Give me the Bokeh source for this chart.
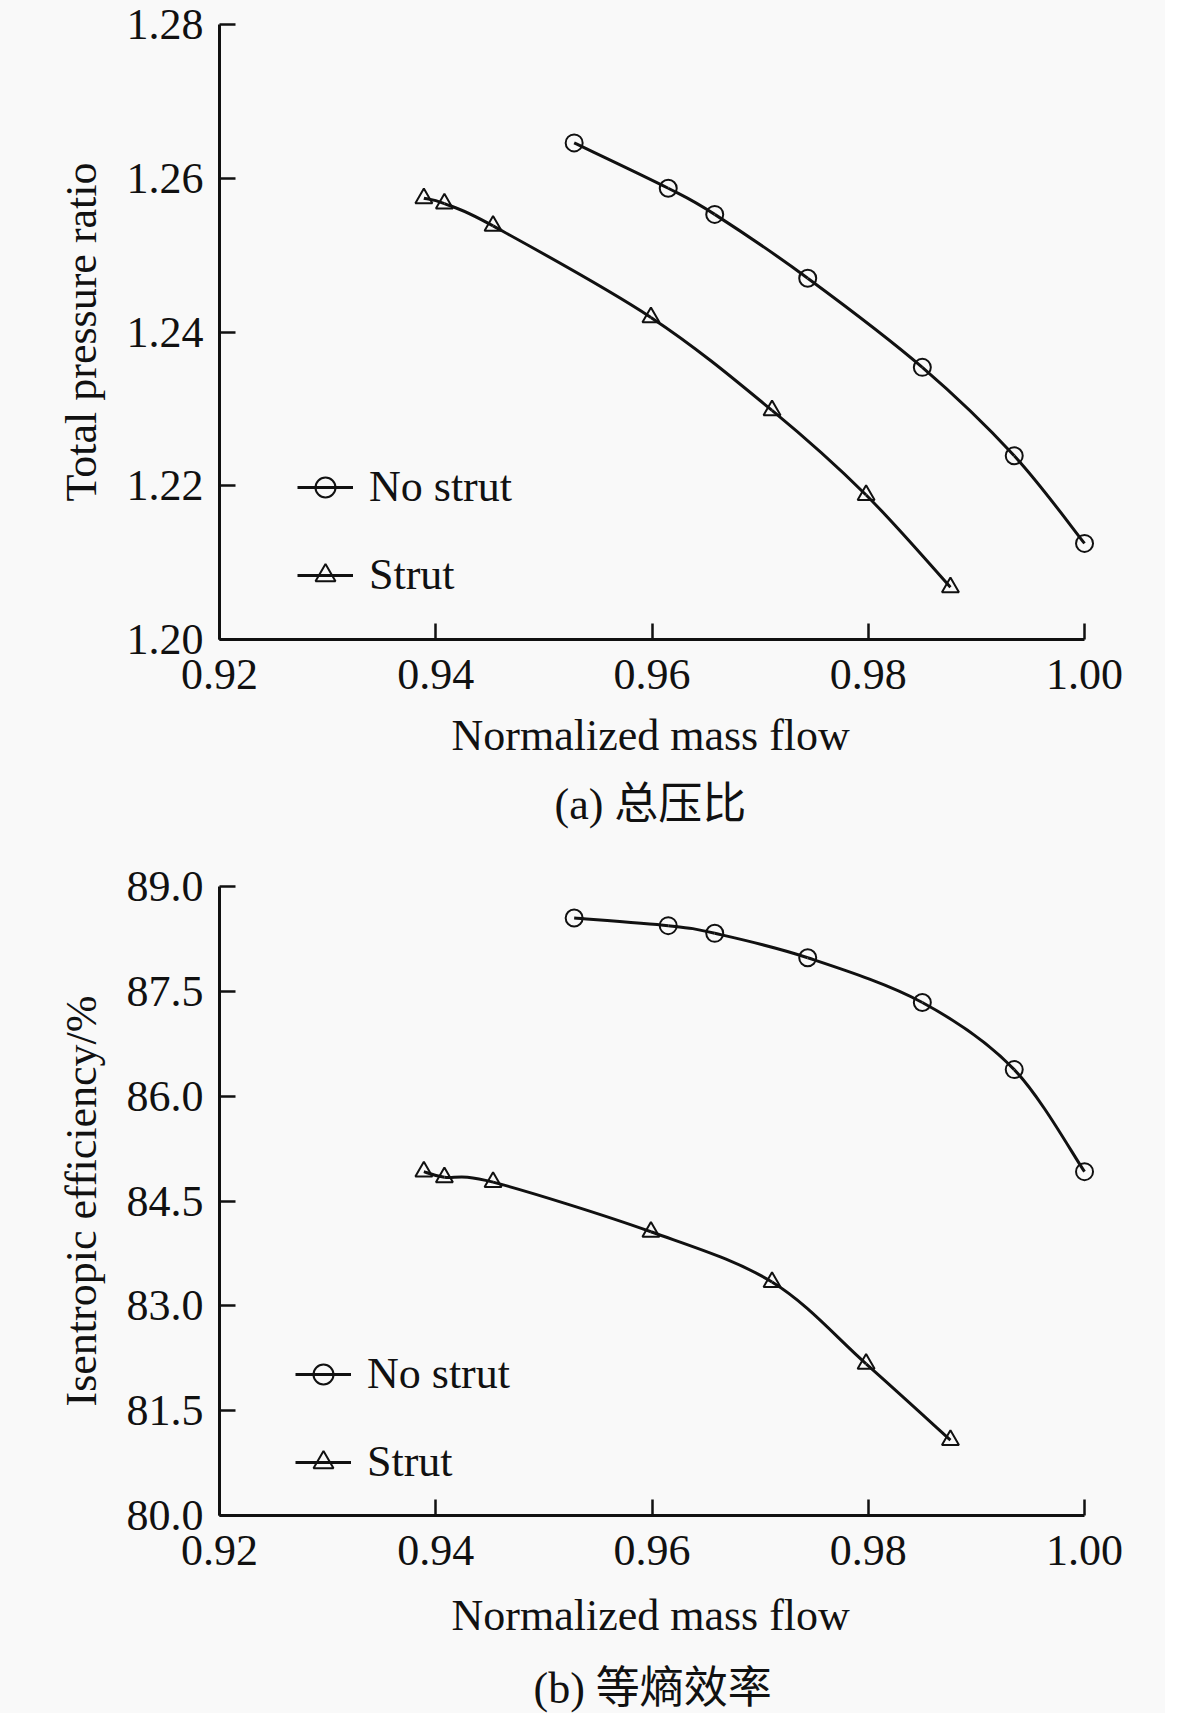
import numpy as np
from bokeh.plotting import figure
from bokeh.models import Range1d, FixedTicker, Legend, LegendItem, Title, PrintfTickFormatter
from bokeh.layouts import column
from bokeh.embed import file_html
from bokeh.resources import INLINE

# ---- data ----
flow_nostrut = [0.9528, 0.9615, 0.9658, 0.9744, 0.9850, 0.9935, 1.0000]
flow_strut = [0.9389, 0.9408, 0.9453, 0.9599, 0.9711, 0.9798, 0.9876]

pr_nostrut = [1.2646, 1.2587, 1.2553, 1.2470, 1.2354, 1.2239, 1.2125]
pr_strut = [1.2574, 1.2567, 1.2538, 1.2419, 1.2298, 1.2188, 1.2068]

eff_nostrut = [88.55, 88.44, 88.33, 87.98, 87.34, 86.38, 84.92]
eff_strut = [84.92, 84.84, 84.77, 84.06, 83.34, 82.17, 81.08]

x_ticks = [0.92, 0.94, 0.96, 0.98, 1.00]
pr_ticks = [1.20, 1.22, 1.24, 1.26, 1.28]
eff_ticks = [80.0, 81.5, 83.0, 84.5, 86.0, 87.5, 89.0]

series_names = ["No strut", "Strut"]
x_title = "Normalized mass flow"
y_titles = ["Total pressure ratio", "Isentropic efficiency/%"]
captions = ["(a) 总压比", "(b) 等熵效率"]

SERIF = "'Liberation Serif', 'Noto Sans CJK SC'"
FS = "44px"
BG = "#f9f9f9"
INK = "#111111"


def smooth_segments(xs, ys):
    """Catmull-Rom style Bezier control points through the data points."""
    x = np.asarray(xs, float)
    y = np.asarray(ys, float)
    xp = np.concatenate([[x[0]], x, [x[-1]]])
    yp = np.concatenate([[y[0]], y, [y[-1]]])
    n = len(x) - 1
    d = dict(x0=[], y0=[], x1=[], y1=[], cx0=[], cy0=[], cx1=[], cy1=[])
    for i in range(n):
        p0x, p0y = xp[i], yp[i]
        p1x, p1y = xp[i + 1], yp[i + 1]
        p2x, p2y = xp[i + 2], yp[i + 2]
        p3x, p3y = xp[i + 3], yp[i + 3]
        d["x0"].append(p1x); d["y0"].append(p1y)
        d["x1"].append(p2x); d["y1"].append(p2y)
        d["cx0"].append(p1x + (p2x - p0x) / 6.0)
        d["cy0"].append(p1y + (p2y - p0y) / 6.0)
        d["cx1"].append(p2x - (p3x - p1x) / 6.0)
        d["cy1"].append(p2y - (p3y - p1y) / 6.0)
    return d


def panel(ylabel, yticks, yfmt, y_no, y_st, caption, top, fh, bottom, leg_loc,
          xl_standoff, cap_standoff, cap_offset):
    p = figure(output_backend="svg", toolbar_location=None,
               frame_width=878, frame_height=fh,
               min_border_left=219, min_border_right=68,
               min_border_top=top, min_border_bottom=bottom,
               x_range=Range1d(0.92, 1.0012),
               y_range=Range1d(yticks[0], yticks[-1]),
               background_fill_color=BG, border_fill_color=BG)
    p.outline_line_color = None
    p.grid.visible = False

    for ax in (p.xaxis[0], p.yaxis[0]):
        ax.axis_line_width = 3
        ax.axis_line_color = INK
        ax.major_tick_line_width = 2.5
        ax.major_tick_line_color = INK
        ax.major_tick_in = 16
        ax.major_tick_out = 0
        ax.minor_tick_line_color = None
        ax.major_label_text_font = SERIF
        ax.major_label_text_font_size = FS
        ax.major_label_text_color = INK
        ax.axis_label_text_font = SERIF
        ax.axis_label_text_font_size = FS
        ax.axis_label_text_font_style = "normal"
        ax.axis_label_text_color = INK

    p.xaxis.ticker = FixedTicker(ticks=x_ticks)
    p.xaxis.formatter = PrintfTickFormatter(format="%.2f")
    p.xaxis.bounds = (x_ticks[0], x_ticks[-1])
    p.xaxis.major_label_standoff = 20

    p.yaxis.ticker = FixedTicker(ticks=yticks)
    p.yaxis.formatter = PrintfTickFormatter(format=yfmt)
    p.yaxis.major_label_standoff = 16
    p.yaxis.axis_label = ylabel
    p.yaxis.axis_label_standoff = 18

    b1 = p.bezier(source=smooth_segments(flow_nostrut, y_no),
                  x0="x0", y0="y0", x1="x1", y1="y1",
                  cx0="cx0", cy0="cy0", cx1="cx1", cy1="cy1",
                  line_color=INK, line_width=3)
    m1 = p.scatter(flow_nostrut, y_no, marker="circle", size=17,
                   fill_alpha=0, line_color=INK, line_width=2)
    b2 = p.bezier(source=smooth_segments(flow_strut, y_st),
                  x0="x0", y0="y0", x1="x1", y1="y1",
                  cx0="cx0", cy0="cy0", cx1="cx1", cy1="cy1",
                  line_color=INK, line_width=3)
    m2 = p.scatter(flow_strut, y_st, marker="triangle", size=17,
                   fill_alpha=0, line_color=INK, line_width=2)

    leg = Legend(items=[LegendItem(label=series_names[0], renderers=[b1, m1]),
                        LegendItem(label=series_names[1], renderers=[b2, m2])],
                 location=leg_loc, glyph_width=56, glyph_height=50,
                 label_height=50, label_standoff=16, spacing=37,
                 padding=0, margin=0, border_line_alpha=0,
                 background_fill_alpha=0,
                 label_text_font=SERIF, label_text_font_size=FS,
                 label_text_color=INK)
    p.add_layout(leg)

    xt = Title(text=x_title, align="left", text_font=SERIF,
               text_font_size=FS, text_font_style="normal",
               text_color=INK, standoff=xl_standoff, offset=232)
    p.add_layout(xt, "below")

    t = Title(text=caption, align="left", text_font=SERIF,
              text_font_size=FS, text_font_style="normal",
              text_color=INK, standoff=cap_standoff, offset=cap_offset)
    p.add_layout(t, "below")
    return p


pa = panel(y_titles[0], pr_ticks, "%.2f", pr_nostrut, pr_strut, captions[0],
           24, 615, 215, (78, 39), 35, 0, 335)
pb = panel(y_titles[1], eff_ticks, "%.1f", eff_nostrut, eff_strut, captions[1],
           32, 629, 190, (76, 28), 42, 2, 314)

layout = column(pa, pb, spacing=0, background=BG)
open("out.html", "w").write(file_html(layout, INLINE))
